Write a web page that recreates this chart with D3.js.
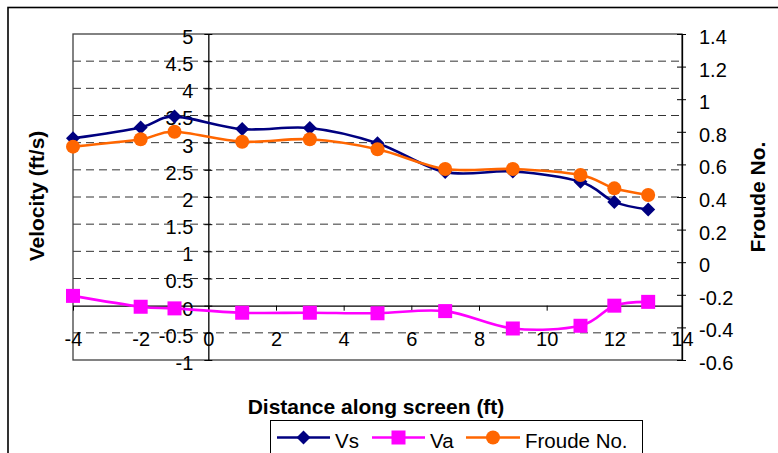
<!DOCTYPE html>
<html>
<head>
<meta charset="utf-8">
<script src="https://cdn.jsdelivr.net/npm/d3@7"></script>
<style>
  html, body { margin: 0; padding: 0; background: #fff; }
  svg { display: block; font-family: "Liberation Sans", Arial, sans-serif; }
</style>
</head>
<body>
<svg id="chart" width="778" height="453"></svg>
<script>
// ---- data ----
const distance = [-4, -2, -1, 1, 3, 5, 7, 9, 11, 12, 13];
const vs = [3.08, 3.28, 3.48, 3.25, 3.27, 2.99, 2.46, 2.47, 2.28, 1.91, 1.77];
const va = [0.18, -0.02, -0.05, -0.13, -0.13, -0.14, -0.10, -0.42, -0.37, 0.0, 0.07];
const froude = [0.709, 0.754, 0.80, 0.739, 0.754, 0.693, 0.572, 0.572, 0.535, 0.453, 0.412];
const leftTicks = [-1, -0.5, 0, 0.5, 1, 1.5, 2, 2.5, 3, 3.5, 4, 4.5, 5];
const rightTicks = [-0.6, -0.4, -0.2, 0, 0.2, 0.4, 0.6, 0.8, 1, 1.2, 1.4];
const xTicks = [-4, -2, 0, 2, 4, 6, 8, 10, 12, 14];
const seriesNames = ["Vs", "Va", "Froude No."];

const svg = d3.select("#chart");
const L = 73, R = 682, T = 34, B = 360;

const x = d3.scaleLinear().domain([-4, 14]).range([L, R]);
const yL = d3.scaleLinear().domain([-1, 5]).range([B, T]);
const yR = d3.scaleLinear().domain([-0.6, 1.4]).range([B, T]);

// outer chart border
svg.append("rect").attr("x", 8).attr("y", 7.5).attr("width", 900).attr("height", 600)
  .attr("fill", "none").attr("stroke", "#000").attr("stroke-width", 1.6);

// gridlines (dashed)
svg.append("g").selectAll("line")
  .data(leftTicks.filter(d => d !== 0 && d !== 5 && d !== -1))
  .join("line")
  .attr("x1", L).attr("x2", R)
  .attr("y1", d => yL(d)).attr("y2", d => yL(d))
  .attr("stroke", "#333").attr("stroke-width", 1)
  .attr("stroke-dasharray", "8,5");

// plot area border
svg.append("rect").attr("x", L).attr("y", T).attr("width", R - L).attr("height", B - T)
  .attr("fill", "none").attr("stroke", "#404040").attr("stroke-width", 1.3);

const fmt = d => String(d);

// x axis at y = 0
const xAxis = svg.append("g").attr("transform", `translate(0,${yL(0)})`)
  .call(d3.axisBottom(x).tickValues(xTicks).tickFormat(fmt).tickSizeInner(5).tickSizeOuter(0));
xAxis.select(".domain").attr("stroke", "#000").attr("stroke-width", 1.3);
xAxis.selectAll(".tick line").attr("stroke", "#000");
xAxis.selectAll(".tick text").attr("y", 26).attr("dy", "0.71em")
  .attr("font-size", 20).attr("fill", "#000").attr("font-family", "Liberation Sans, Arial, sans-serif");

// left y axis at x = 0
const yAxisL = svg.append("g").attr("transform", `translate(${x(0)},0)`)
  .call(d3.axisLeft(yL).tickValues(leftTicks).tickFormat(fmt).tickSizeInner(4).tickSizeOuter(0).tickPadding(11));
yAxisL.select(".domain").attr("stroke", "#000").attr("stroke-width", 1.3);
yAxisL.selectAll(".tick line").attr("x1", 4).attr("x2", -4).attr("stroke", "#000");
yAxisL.selectAll(".tick text").attr("dy", "0.47em")
  .attr("font-size", 20).attr("fill", "#000").attr("font-family", "Liberation Sans, Arial, sans-serif");

// right y axis
const yAxisR = svg.append("g").attr("transform", `translate(${R},0)`)
  .call(d3.axisRight(yR).tickValues(rightTicks).tickFormat(fmt).tickSizeInner(4).tickSizeOuter(0).tickPadding(13));
yAxisR.select(".domain").attr("stroke", "#000").attr("stroke-width", 1.3);
yAxisR.selectAll(".tick line").attr("x1", -5).attr("x2", 4).attr("stroke", "#000");
yAxisR.selectAll(".tick text").attr("dy", "0.47em")
  .attr("font-size", 20).attr("fill", "#000").attr("font-family", "Liberation Sans, Arial, sans-serif");

// series
const curve = d3.curveCardinal.tension(0);
const series = [
  { name: seriesNames[0], values: vs, scale: yL, color: "#000080", marker: "diamond" },
  { name: seriesNames[1], values: va, scale: yL, color: "#FF00FF", marker: "square" },
  { name: seriesNames[2], values: froude, scale: yR, color: "#FF6600", marker: "circle" }
];

function drawMarker(g, type, color) {
  if (type === "diamond") {
    g.append("path").attr("d", "M0,-7L7,0L0,7L-7,0Z").attr("fill", color);
  } else if (type === "square") {
    g.append("rect").attr("x", -7).attr("y", -7).attr("width", 14).attr("height", 14).attr("fill", color);
  } else {
    g.append("circle").attr("r", 7).attr("fill", color);
  }
}

series.forEach(s => {
  const pts = distance.map((d, i) => [x(d), s.scale(s.values[i])]);
  svg.append("path").attr("d", d3.line().curve(curve)(pts))
    .attr("fill", "none").attr("stroke", s.color).attr("stroke-width", 2.6);
  pts.forEach(p => {
    const g = svg.append("g").attr("transform", `translate(${p[0]},${p[1]})`);
    drawMarker(g, s.marker, s.color);
  });
});

// axis titles
svg.append("text").attr("x", 376).attr("y", 414).attr("text-anchor", "middle")
  .attr("font-size", 21).attr("font-weight", "bold").text("Distance along screen (ft)");
svg.append("text").attr("transform", "translate(44,196) rotate(-90)").attr("text-anchor", "middle")
  .attr("font-size", 21).attr("font-weight", "bold").text("Velocity (ft/s)");
svg.append("text").attr("transform", "translate(765,197) rotate(-90)").attr("text-anchor", "middle")
  .attr("font-size", 21).attr("font-weight", "bold").text("Froude No.");

// legend
svg.append("rect").attr("x", 270.5).attr("y", 420.5).attr("width", 372).attr("height", 60)
  .attr("fill", "#fff").attr("stroke", "#000").attr("stroke-width", 1);
const legendItems = [
  { s: series[0], x0: 277, x1: 330, tx: 335 },
  { s: series[1], x0: 372, x1: 425, tx: 430 },
  { s: series[2], x0: 466, x1: 520, tx: 525 }
];
legendItems.forEach(it => {
  const ly = 437.5;
  svg.append("line").attr("x1", it.x0).attr("x2", it.x1).attr("y1", ly).attr("y2", ly)
    .attr("stroke", it.s.color).attr("stroke-width", 2.6);
  const g = svg.append("g").attr("transform", `translate(${(it.x0 + it.x1) / 2},${ly})`);
  drawMarker(g, it.s.marker, it.s.color);
  svg.append("text").attr("x", it.tx).attr("y", 448).attr("font-size", 20.5).text(it.s.name);
});
</script>
</body>
</html>
